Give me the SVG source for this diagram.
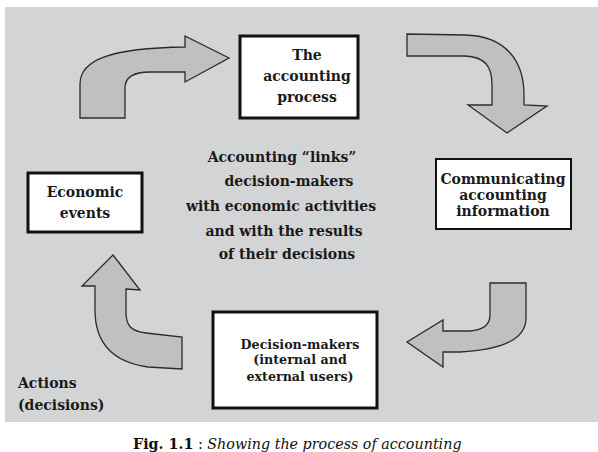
<svg xmlns="http://www.w3.org/2000/svg" width="598" height="452" viewBox="0 0 598 452">
<style>
.bg{fill:#d3d4d6}
.arrow{fill:#bfc0c2;stroke:#2b2b2b;stroke-width:1.3;stroke-linejoin:miter}
.box{fill:#ffffff;stroke:#111111;stroke-width:3}
.thin{stroke-width:2}
.t{font-family:"DejaVu Serif","Liberation Serif",serif;font-weight:bold;font-size:14px;fill:#1a1a1a;text-anchor:middle}
.s{font-size:12.7px}
.l{text-anchor:start}
.cap{font-family:"DejaVu Serif","Liberation Serif",serif;font-size:14.3px;fill:#111}
</style>
<rect class="bg" x="5" y="7" width="593" height="415"/>
<g id="connectors">
<path id="arrow-top-left" class="arrow" d="M80,118 L80,84 C80,60 110,48 185,47 L185,36 L229,58 L185,82 L185,72 L150,72 C134,72 125,77 125,88 L125,118 Z"/>
<path id="arrow-top-right" class="arrow" d="M407,34 L465,35 C505,36 524,60 524,95 L524,105 L547,106 L507,133 L468,105 L492,105 L492,85 C492,66 485,57 465,56 L407,56 Z"/>
<path id="arrow-bottom-right" class="arrow" d="M490,283 L526,283 L526,318 C526,340 500,350 460,352 L443,352 L443,367 L407,342 L443,320 L443,331 L470,331 C483,330 490,325 490,315 Z"/>
<path id="arrow-bottom-left" class="arrow" d="M113,255 L140,290 L126,289 L126,312 C126,326 131,331 146,333 L182,337 L182,369 L148,367 C112,362 95,342 95,310 L95,286 L82,286 Z"/>
</g>
<g id="node-accounting-process">
<rect class="box" x="240" y="36" width="118" height="82"/>
<text class="t" x="307" y="60">The</text>
<text class="t" x="307" y="81">accounting</text>
<text class="t" x="307" y="102">process</text>
</g>
<g id="node-communicating">
<rect class="box thin" x="436" y="159" width="135" height="70"/>
<text class="t" x="503" y="184">Communicating</text>
<text class="t" x="503" y="200">accounting</text>
<text class="t" x="503" y="216">information</text>
</g>
<g id="node-decision-makers">
<rect class="box" x="213" y="312" width="164" height="96"/>
<text class="t s" x="300" y="349">Decision-makers</text>
<text class="t s" x="300" y="364">(internal and</text>
<text class="t s" x="300" y="381">external users)</text>
</g>
<g id="node-economic-events">
<rect class="box" x="28" y="173" width="114" height="59"/>
<text class="t" x="85" y="197">Economic</text>
<text class="t" x="85" y="218">events</text>
</g>
<g id="center-text">
<text class="t" x="282" y="162">Accounting “links”</text>
<text class="t" x="289" y="186">decision-makers</text>
<text class="t" x="281" y="211">with economic activities</text>
<text class="t" x="284" y="236">and with the results</text>
<text class="t" x="287" y="259">of their decisions</text>
</g>
<g id="actions-label">
<text class="t l" x="18" y="388">Actions</text>
<text class="t l" x="18" y="410">(decisions)</text>
</g>
<g id="caption">
<text class="cap" x="133" y="449"><tspan font-weight="bold">Fig. 1.1</tspan> : <tspan font-style="italic">Showing the process of accounting</tspan></text>
</g>
</svg>
